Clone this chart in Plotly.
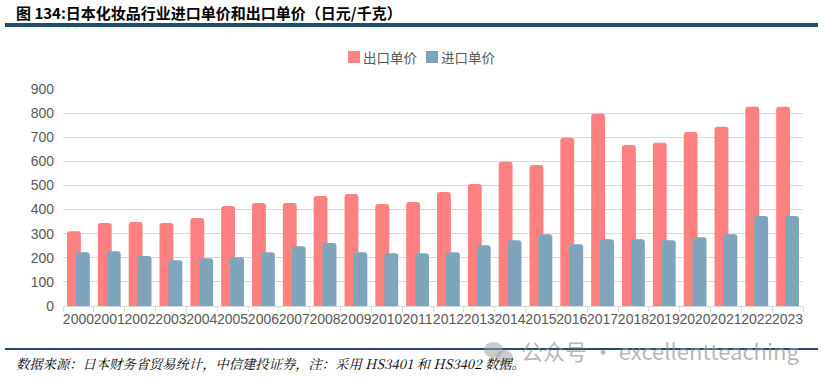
import plotly.graph_objects as go

years = [str(y) for y in range(2000, 2024)]
export_price = [310, 344, 348, 344, 365, 415, 427, 427, 456, 464, 423, 431, 473, 506,
                598, 585, 698, 797, 668, 677, 722, 743, 826, 826]
import_price = [223, 227, 207, 190, 198, 202, 223, 248, 261, 223, 219, 219, 223, 252,
                273, 298, 256, 277, 277, 273, 285, 298, 373, 373]
y_ticks = [0, 100, 200, 300, 400, 500, 600, 700, 800, 900]
series_names = ["出口单价", "进口单价"]
series_colors = ["#FF8080", "#7FA5BC"]

W, H = 825, 383
PL, PR, PT, PB = 63, 803, 89, 306
L, R, T, B = PL, W - PR, PT, H - PB
PW, PH = PR - PL, PB - PT


def px(x):
    return (x - PL) / PW


def py(y):
    return (PB - y) / PH


fig = go.Figure()
fig.add_trace(go.Bar(
    x=years, y=export_price, name=series_names[0],
    marker=dict(color=series_colors[0], line=dict(width=0), cornerradius=3),
    width=0.45, offset=-0.37,
))
fig.add_trace(go.Bar(
    x=years, y=import_price, name=series_names[1],
    marker=dict(color=series_colors[1], line=dict(width=0), cornerradius=3),
    width=0.45, offset=-0.08,
))

fig.update_layout(
    width=W, height=H,
    margin=dict(l=L, r=R, t=T, b=B),
    paper_bgcolor="white", plot_bgcolor="white",
    barmode="overlay",
    showlegend=False,
    font=dict(family="Liberation Sans, Arial", size=14, color="#595959"),
)
fig.update_xaxes(
    type="category", tickson="boundaries", ticks="outside", ticklen=5,
    tickcolor="#D9D9D9", showline=True, linecolor="#D9D9D9", linewidth=1,
    showgrid=False, tickfont=dict(size=14, color="#595959"), tickangle=0,
)
fig.update_yaxes(
    range=[0, 900], tickvals=y_ticks, showgrid=True, gridcolor="#D9D9D9",
    zeroline=False, showline=False, tickfont=dict(size=14, color="#595959"),
    ticks="", ticklabelstandoff=8,
)

shapes = [
    dict(type="line", xref="paper", yref="paper", x0=px(5), x1=px(818), y0=py(25), y1=py(25),
         line=dict(color="#1B4F72", width=4)),
    dict(type="line", xref="paper", yref="paper", x0=px(5), x1=px(818), y0=py(349), y1=py(349),
         line=dict(color="#1B4F72", width=2)),
]
annotations = []

# manual legend
legend_items = [(348, series_names[0], series_colors[0]), (426, series_names[1], series_colors[1])]
for x0, name, col in legend_items:
    shapes.append(dict(type="rect", xref="paper", yref="paper",
                       x0=px(x0), x1=px(x0 + 12), y0=py(63), y1=py(51),
                       fillcolor=col, line=dict(width=0)))
    annotations.append(dict(text=name, xref="paper", yref="paper", x=px(x0 + 13), y=py(57.5),
                            xanchor="left", yanchor="middle", showarrow=False,
                            font=dict(family="Noto Sans CJK SC", size=13.5, color="#595959")))

# wechat-like icon of the watermark
shapes.append(dict(type="circle", xref="paper", yref="paper", x0=px(484), x1=px(503),
                   y0=py(358), y1=py(342), fillcolor="rgba(160,160,160,0.55)", line=dict(width=0)))
shapes.append(dict(type="circle", xref="paper", yref="paper", x0=px(496), x1=px(513),
                   y0=py(365), y1=py(350), fillcolor="rgba(160,160,160,0.55)", line=dict(width=0)))
fig.update_layout(shapes=shapes)

annotations += [
    dict(text="<b>图 134:日本化妆品行业进口单价和出口单价（日元/千克）</b>", xref="paper", yref="paper",
         x=px(14), y=py(12), xanchor="left", yanchor="middle", showarrow=False,
         font=dict(family="Noto Sans CJK SC", size=15, color="black")),
    dict(text="<i>数据来源：日本财务省贸易统计，中信建投证券，注：采用 HS3401 和 HS3402 数据。</i>",
         xref="paper", yref="paper", x=px(14), y=py(363), xanchor="left", yanchor="middle",
         showarrow=False, font=dict(family="Noto Serif CJK SC, Noto Sans CJK SC", size=13.3, color="black")),
    dict(text="公众号 · excellentteaching", xref="paper", yref="paper",
         x=px(519), y=py(350), xanchor="left", yanchor="middle", showarrow=False,
         font=dict(family="Noto Sans CJK SC", size=22, color="rgba(150,150,150,0.7)")),
]
fig.update_layout(annotations=annotations)

fig.write_html("out.html", config={"displayModeBar": False},
               post_script="document.body.style.margin='0';document.body.style.padding='0';")
